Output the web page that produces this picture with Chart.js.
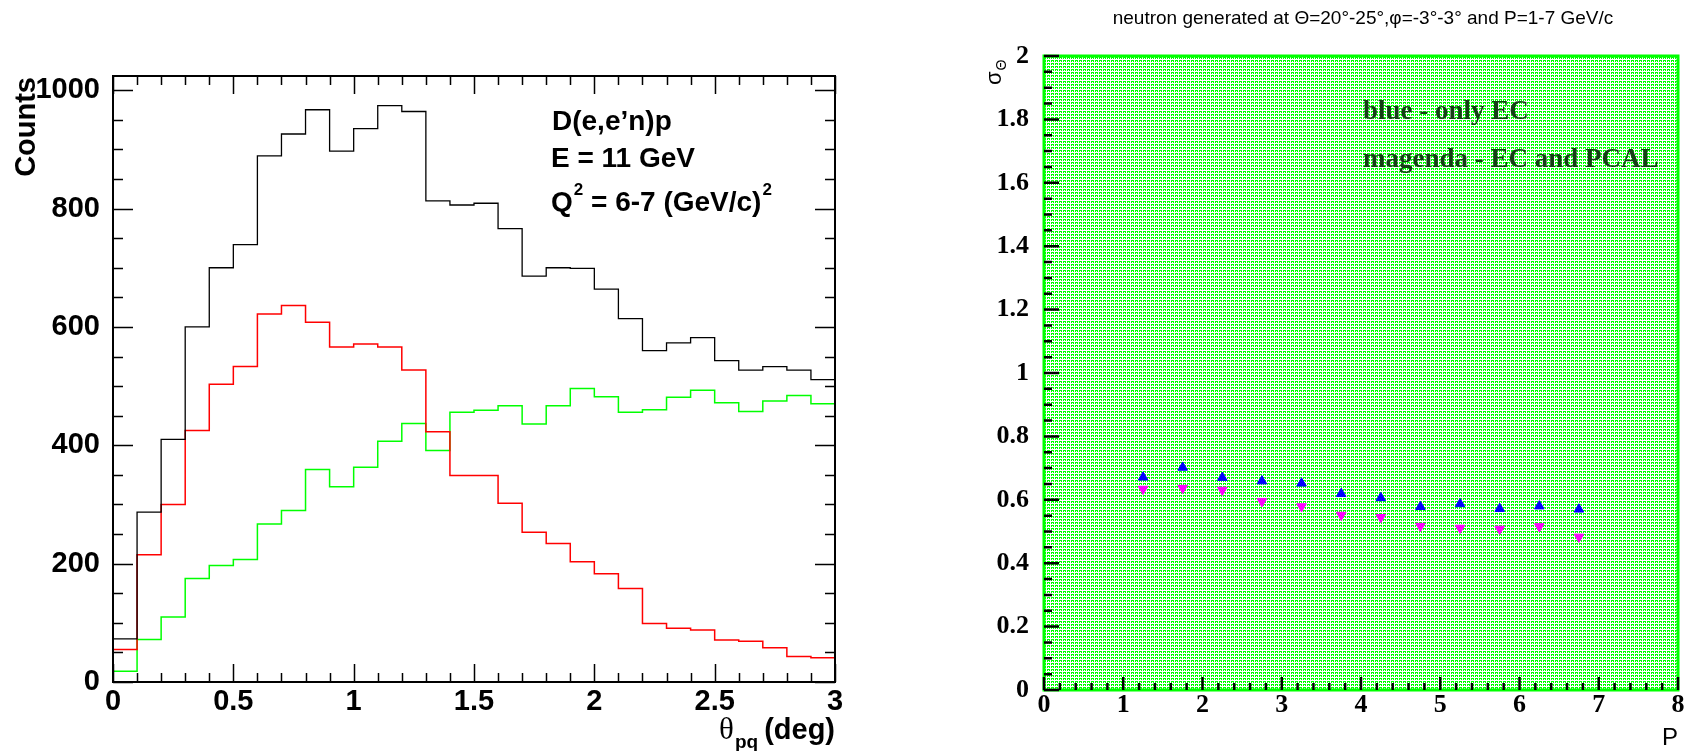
<!DOCTYPE html>
<html>
<head>
<meta charset="utf-8">
<script src="https://cdn.jsdelivr.net/npm/chart.js@4.4.1/dist/chart.umd.min.js"></script>
<style>
  html, body { margin: 0; padding: 0; background: #fff; }
  #wrap { position: relative; width: 1686px; height: 751px; }
  canvas { position: absolute; top: 0; }
  #left { left: 0; }
  #right { left: 843px; }
</style>
</head>
<body>
<div id="wrap">
  <canvas id="left" width="843" height="751"></canvas>
  <canvas id="right" width="843" height="751"></canvas>
</div>
<script>
// left pad: theta_pq histograms (bin lower edges + last upper edge)
const thetaEdges = [0, 0.1, 0.2, 0.3, 0.4, 0.5, 0.6, 0.7, 0.8, 0.9, 1.0,
  1.1, 1.2, 1.3, 1.4, 1.5, 1.6, 1.7, 1.8, 1.9, 2.0,
  2.1, 2.2, 2.3, 2.4, 2.5, 2.6, 2.7, 2.8, 2.9, 3.0];
const countsAll = [73, 287, 410, 600, 700, 739, 889, 926, 967, 897,
  935, 974, 964, 813, 806, 809, 766, 686, 700, 699,
  664, 614, 560, 573, 582, 543, 527, 533, 527, 511];
const countsRed = [55, 215, 300, 425, 503, 533, 622, 636, 608, 566,
  571, 566, 527, 423, 349, 349, 302, 253, 234, 203,
  183, 158, 99, 91, 88, 71, 69, 58, 43, 41];
const countsGreen = [18, 72, 110, 175, 197, 207, 267, 290, 359, 330,
  363, 407, 437, 391, 456, 459, 467, 436, 467, 496,
  482, 456, 460, 481, 493, 472, 457, 475, 484, 470];
const thetaTickLabels = ["0", "0.5", "1", "1.5", "2", "2.5", "3"];
const countTickLabels = ["0", "200", "400", "600", "800", "1000"];

// right pad: sigma_theta vs P
const momentum = [1.25, 1.75, 2.25, 2.75, 3.25, 3.75, 4.25, 4.75, 5.25, 5.75, 6.25, 6.75];
const sigmaOnlyEC = [0.671, 0.702, 0.670, 0.659, 0.652, 0.619, 0.606, 0.578, 0.587, 0.572, 0.580, 0.570];
const sigmaECPCAL = [0.634, 0.637, 0.631, 0.595, 0.579, 0.552, 0.545, 0.517, 0.511, 0.508, 0.516, 0.483];
const pTickLabels = ["0", "1", "2", "3", "4", "5", "6", "7", "8"];
const sigmaTickLabels = ["0", "0.2", "0.4", "0.6", "0.8", "1", "1.2", "1.4", "1.6", "1.8", "2"];

const SANS = "'Liberation Sans', Arial, sans-serif";
const SERIF = "'Liberation Serif', 'Times New Roman', serif";

function histPoints(values) {
  const pts = values.map((v, i) => ({ x: thetaEdges[i], y: v }));
  pts.push({ x: thetaEdges[values.length], y: values[values.length - 1] });
  return pts;
}

function histSet(values, color, width) {
  return {
    data: histPoints(values),
    borderColor: color,
    borderWidth: width,
    stepped: true,
    pointRadius: 0,
    fill: false,
    tension: 0
  };
}

// put the ticks exactly on the labelled values
function ticksFrom(labels) {
  return (scale) => { scale.ticks = labels.map((l) => ({ value: Number(l) })); };
}

// frame, inward ticks and text for the left pad
const leftDecor = {
  id: "leftDecor",
  afterDraw(chart) {
    const { ctx, chartArea: a, scales } = chart;
    const xs = scales.x, ys = scales.y;
    ctx.save();
    ctx.strokeStyle = "#000";
    ctx.lineWidth = 1.5;
    ctx.beginPath();
    for (let v = 0; v <= 1000; v += 50) {
      const y = Math.round(ys.getPixelForValue(v)) + 0.5;
      const len = v % 200 === 0 ? 20 : 10;
      ctx.moveTo(a.left, y); ctx.lineTo(a.left + len, y);
      ctx.moveTo(a.right, y); ctx.lineTo(a.right - len, y);
    }
    for (let k = 0; k <= 30; k++) {
      const x = Math.round(xs.getPixelForValue(k / 10)) + 0.5;
      const len = k % 5 === 0 ? 18 : 9;
      ctx.moveTo(x, a.bottom); ctx.lineTo(x, a.bottom - len);
      ctx.moveTo(x, a.top); ctx.lineTo(x, a.top + len);
    }
    ctx.stroke();
    ctx.lineWidth = 2;
    ctx.strokeRect(a.left, a.top, a.right - a.left, a.bottom - a.top);

    ctx.fillStyle = "#000";
    ctx.textBaseline = "alphabetic";
    ctx.textAlign = "left";
    ctx.font = "bold 28px " + SANS;
    ctx.fillText("D(e,e\u2019n)p", 552, 130);
    ctx.fillText("E = 11 GeV", 551, 167);
    let x = 551;
    ctx.fillText("Q", x, 211);
    x += ctx.measureText("Q").width + 1;
    ctx.font = "bold 17px " + SANS;
    ctx.fillText("2", x, 195);
    x += ctx.measureText("2").width;
    ctx.font = "bold 28px " + SANS;
    const q2 = " = 6-7 (GeV/c)";
    ctx.fillText(q2, x, 211);
    x += ctx.measureText(q2).width + 1;
    ctx.font = "bold 17px " + SANS;
    ctx.fillText("2", x, 195);

    // y title
    ctx.save();
    ctx.translate(35, 77);
    ctx.rotate(-Math.PI / 2);
    ctx.textAlign = "right";
    ctx.font = "bold 29px " + SANS;
    ctx.fillText("Counts", 0, 0);
    ctx.restore();

    // x title
    ctx.textAlign = "right";
    ctx.font = "bold 29px " + SANS;
    let xr = a.right;
    ctx.fillText("(deg)", xr, 739);
    xr -= ctx.measureText("(deg)").width + 6;
    ctx.font = "bold 19px " + SANS;
    ctx.fillText("pq", xr, 748);
    xr -= ctx.measureText("pq").width + 1;
    ctx.font = "31px " + SERIF;
    ctx.fillText("\u03b8", xr, 739);
    ctx.restore();
  }
};

// dotted green fill used by the right pad
function greenPattern(ctx) {
  const tile = document.createElement("canvas");
  tile.width = 4; tile.height = 3;
  const t = tile.getContext("2d");
  t.fillStyle = "#fff";
  t.fillRect(0, 0, 4, 3);
  t.fillStyle = "#00ff00";
  t.fillRect(0, 0, 3, 1);
  t.fillRect(0, 1, 1, 1);
  t.fillRect(2, 1, 1, 1);
  return ctx.createPattern(tile, "repeat");
}

const rightDecor = {
  id: "rightDecor",
  beforeDatasetsDraw(chart) {
    const { ctx, chartArea: a } = chart;
    ctx.save();
    ctx.fillStyle = greenPattern(ctx);
    ctx.fillRect(a.left, a.top, a.right - a.left, a.bottom - a.top);
    ctx.restore();
  },
  afterDraw(chart) {
    const { ctx, chartArea: a, scales } = chart;
    const xs = scales.x, ys = scales.y;
    ctx.save();
    ctx.strokeStyle = "#00ff00";
    ctx.lineWidth = 3;
    ctx.strokeRect(a.left, a.top, a.right - a.left, a.bottom - a.top);

    ctx.strokeStyle = "#000";
    ctx.lineWidth = 2.5;
    ctx.beginPath();
    for (let k = 0; k <= 40; k++) {
      const y = ys.getPixelForValue(k * 0.05);
      const len = k % 4 === 0 ? 15 : 8;
      ctx.moveTo(a.left, y); ctx.lineTo(a.left + len, y);
    }
    for (let k = 0; k <= 40; k++) {
      const x = xs.getPixelForValue(k * 0.2);
      const len = k % 5 === 0 ? 13 : 7;
      ctx.moveTo(x, a.bottom); ctx.lineTo(x, a.bottom - len);
    }
    ctx.stroke();

    ctx.fillStyle = "#000";
    ctx.textAlign = "center";
    ctx.textBaseline = "alphabetic";
    ctx.font = "19px " + SANS;
    ctx.fillText("neutron generated at \u0398=20\u00b0-25\u00b0,\u03c6=-3\u00b0-3\u00b0 and P=1-7 GeV/c", 520, 24);

    ctx.textAlign = "left";
    ctx.fillStyle = "#163f16";
    ctx.font = "bold 27px " + SERIF;
    ctx.fillText("blue - only EC", 520, 119);
    ctx.fillText("magenda - EC and PCAL", 520, 167);

    ctx.fillStyle = "#000";
    ctx.textAlign = "right";
    ctx.font = "24px " + SANS;
    ctx.fillText("P", a.right, 745);

    ctx.save();
    ctx.translate(158, 85);
    ctx.rotate(-Math.PI / 2);
    ctx.textAlign = "left";
    ctx.font = "22px " + SANS;
    ctx.fillText("\u03c3", 0, 0);
    const w = ctx.measureText("\u03c3").width;
    ctx.font = "14px " + SANS;
    ctx.fillText("\u0398", w + 1, 5);
    ctx.restore();
    ctx.restore();
  }
};

new Chart(document.getElementById("left"), {
  type: "line",
  data: {
    datasets: [
      histSet(countsAll, "#000000", 1.3),
      histSet(countsRed, "#ff0000", 1.5),
      histSet(countsGreen, "#00ff00", 1.5)
    ]
  },
  options: {
    responsive: false,
    animation: false,
    layout: { padding: { top: 76, right: 8, left: 0, bottom: 0 } },
    plugins: { legend: { display: false }, tooltip: { enabled: false } },
    scales: {
      x: {
        type: "linear", min: 0, max: 3, bounds: "data",
        grid: { display: false }, border: { display: false },
        afterBuildTicks: ticksFrom(thetaTickLabels),
        ticks: {
          autoSkip: false, maxRotation: 0,
          padding: -5, color: "#000",
          font: { family: SANS, size: 29, weight: "bold" },
          callback: (v, i) => thetaTickLabels[i]
        },
        afterFit: (s) => { s.height = 69; }
      },
      y: {
        type: "linear", min: 0, max: 1024, bounds: "data",
        grid: { display: false }, border: { display: false },
        afterBuildTicks: ticksFrom(countTickLabels),
        ticks: {
          padding: 5, color: "#000",
          font: { family: SANS, size: 29, weight: "bold" },
          callback: (v, i) => countTickLabels[i]
        },
        afterFit: (s) => { s.width = 113; }
      }
    }
  },
  plugins: [leftDecor]
});

new Chart(document.getElementById("right"), {
  type: "scatter",
  data: {
    datasets: [
      {
        data: momentum.map((p, i) => ({ x: p, y: sigmaOnlyEC[i] })),
        pointStyle: "triangle", pointRadius: 5.5, borderWidth: 1,
        backgroundColor: "#0000ff", borderColor: "#0000ff"
      },
      {
        data: momentum.map((p, i) => ({ x: p, y: sigmaECPCAL[i] })),
        pointStyle: "triangle", rotation: 180, pointRadius: 5.5, borderWidth: 1,
        backgroundColor: "#ff00ff", borderColor: "#ff00ff"
      }
    ]
  },
  options: {
    responsive: false,
    animation: false,
    layout: { padding: { top: 56, right: 8, left: 0, bottom: 0 } },
    plugins: { legend: { display: false }, tooltip: { enabled: false } },
    scales: {
      x: {
        type: "linear", min: 0, max: 8, bounds: "data",
        grid: { display: false }, border: { display: false },
        afterBuildTicks: ticksFrom(pTickLabels),
        ticks: {
          autoSkip: false, maxRotation: 0,
          padding: -8, color: "#000",
          font: { family: SERIF, size: 26, weight: "bold" },
          callback: (v, i) => pTickLabels[i]
        },
        afterFit: (s) => { s.height = 61; }
      },
      y: {
        type: "linear", min: 0, max: 2, bounds: "data",
        grid: { display: false }, border: { display: false },
        afterBuildTicks: ticksFrom(sigmaTickLabels),
        ticks: {
          padding: 7, color: "#000",
          font: { family: SERIF, size: 26, weight: "bold" },
          callback: (v, i) => sigmaTickLabels[i]
        },
        afterFit: (s) => { s.width = 201; }
      }
    }
  },
  plugins: [rightDecor]
});
</script>
</body>
</html>
